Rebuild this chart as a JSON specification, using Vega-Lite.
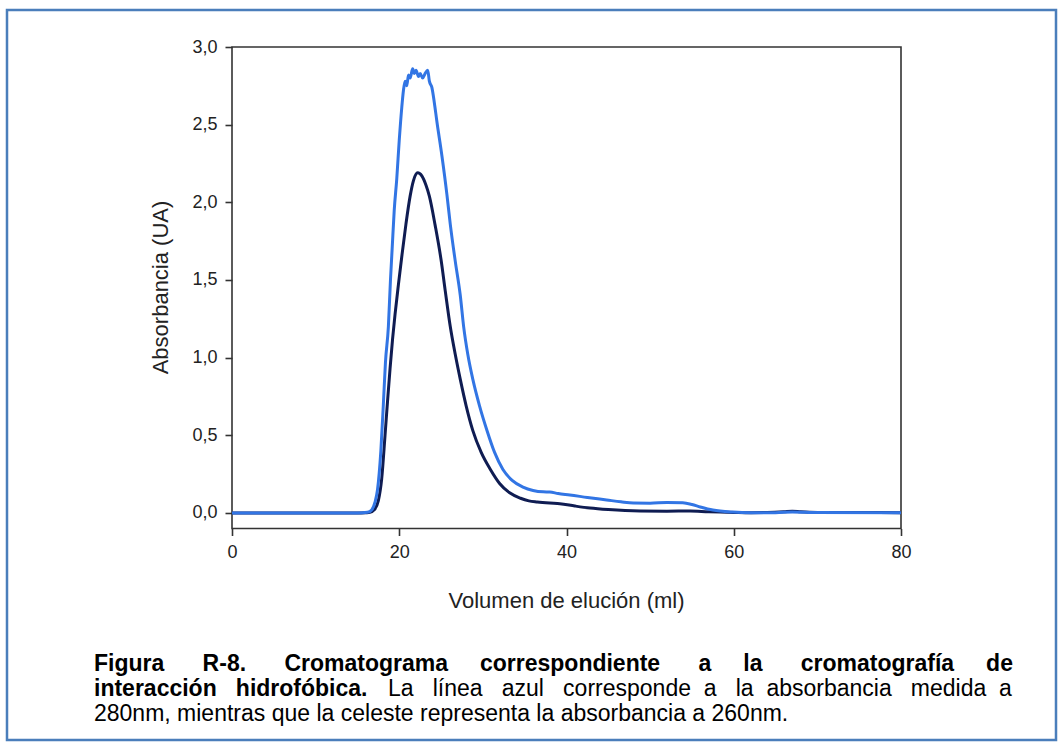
{
  "$schema": "https://vega.github.io/schema/vega-lite/v6.json",
  "width": 1049,
  "height": 730,
  "autosize": {"type": "none"},
  "padding": {"left": 7, "top": 10, "right": 6, "bottom": 5},
  "background": "white",
  "config": {
    "view": {"stroke": "#4a7ebb", "strokeWidth": 2.5},
    "font": "Liberation Sans"
  },
  "title": {
    "text": [
      "Figura\u00a0\u00a0\u00a0\u00a0\u00a0 R-8.\u00a0\u00a0\u00a0\u00a0\u00a0 Cromatograma\u00a0\u00a0\u00a0\u00a0 correspondiente\u00a0\u00a0\u00a0\u00a0\u00a0 a\u00a0\u00a0\u00a0\u00a0 la\u00a0\u00a0\u00a0\u00a0\u00a0 cromatografía\u00a0\u00a0\u00a0\u00a0 de",
      "interacción\u00a0\u00a0 hidrofóbica."
    ],
    "subtitle": [
      "\u200b\u00a0\u00a0\u00a0\u00a0\u00a0\u00a0\u00a0\u00a0\u00a0\u00a0\u00a0\u00a0\u00a0\u00a0\u00a0\u00a0\u00a0\u00a0\u00a0\u00a0\u00a0\u00a0\u00a0\u00a0\u00a0\u00a0\u00a0\u00a0\u00a0\u00a0\u00a0\u00a0\u00a0\u00a0\u00a0\u00a0\u00a0\u00a0\u00a0\u00a0\u00a0\u00a0\u00a0\u00a0\u00a0\u00a0La\u00a0\u00a0 línea\u00a0\u00a0 azul\u00a0\u00a0 corresponde\u00a0 a\u00a0\u00a0 la\u00a0 absorbancia\u00a0\u00a0 medida\u00a0 a",
      "280nm, mientras que la celeste representa la absorbancia a 260nm."
    ],
    "orient": "bottom",
    "anchor": "start",
    "frame": "group",
    "offset": -87,
    "dx": 87,
    "font": "Liberation Sans",
    "fontSize": 23,
    "fontWeight": "bold",
    "color": "#000000",
    "lineHeight": 25,
    "subtitleFont": "Liberation Sans",
    "subtitleFontSize": 23,
    "subtitleFontWeight": "normal",
    "subtitleColor": "#000000",
    "subtitleLineHeight": 25,
    "subtitlePadding": -23
  },
  "layer": [
    {
      "data": {"values": [{}]},
      "mark": {"type": "rect", "filled": false, "stroke": "#333333", "strokeWidth": 1.6},
      "encoding": {
        "x": {"datum": 0, "type": "quantitative", "scale": {"domain": [-26.906, 98.535], "nice": false, "zero": false}},
        "x2": {"datum": 80},
        "y": {"datum": -0.1, "type": "quantitative", "scale": {"domain": [-1.4614, 3.2382], "nice": false, "zero": false}},
        "y2": {"datum": 3.0}
      }
    },
    {
      "data": {
        "values": [
          {"s": "280 nm", "v": 0, "a": 0}, {"s": "280 nm", "v": 10, "a": 0}, {"s": "280 nm", "v": 15, "a": 0},
          {"s": "280 nm", "v": 16, "a": 0.002}, {"s": "280 nm", "v": 16.5, "a": 0.004}, {"s": "280 nm", "v": 17.0, "a": 0.02},
          {"s": "280 nm", "v": 17.5, "a": 0.08}, {"s": "280 nm", "v": 17.9, "a": 0.22}, {"s": "280 nm", "v": 18.3, "a": 0.5},
          {"s": "280 nm", "v": 18.6, "a": 0.72}, {"s": "280 nm", "v": 18.9, "a": 0.93}, {"s": "280 nm", "v": 19.2, "a": 1.12},
          {"s": "280 nm", "v": 19.5, "a": 1.28}, {"s": "280 nm", "v": 19.9, "a": 1.47}, {"s": "280 nm", "v": 20.3, "a": 1.65},
          {"s": "280 nm", "v": 20.8, "a": 1.86}, {"s": "280 nm", "v": 21.3, "a": 2.04}, {"s": "280 nm", "v": 21.7, "a": 2.14},
          {"s": "280 nm", "v": 22.2, "a": 2.19},
          {"s": "280 nm", "v": 22.7, "a": 2.17}, {"s": "280 nm", "v": 23.2, "a": 2.11}, {"s": "280 nm", "v": 23.6, "a": 2.04},
          {"s": "280 nm", "v": 24.3, "a": 1.85}, {"s": "280 nm", "v": 25.0, "a": 1.63}, {"s": "280 nm", "v": 25.5, "a": 1.43},
          {"s": "280 nm", "v": 26.1, "a": 1.2}, {"s": "280 nm", "v": 26.7, "a": 1.02}, {"s": "280 nm", "v": 27.3, "a": 0.86},
          {"s": "280 nm", "v": 28.0, "a": 0.69}, {"s": "280 nm", "v": 28.8, "a": 0.53}, {"s": "280 nm", "v": 29.8, "a": 0.39},
          {"s": "280 nm", "v": 30.9, "a": 0.28}, {"s": "280 nm", "v": 32.0, "a": 0.19}, {"s": "280 nm", "v": 33.2, "a": 0.13},
          {"s": "280 nm", "v": 34.5, "a": 0.095}, {"s": "280 nm", "v": 35.5, "a": 0.078}, {"s": "280 nm", "v": 36.5, "a": 0.071},
          {"s": "280 nm", "v": 38.0, "a": 0.064}, {"s": "280 nm", "v": 39.2, "a": 0.06}, {"s": "280 nm", "v": 41.0, "a": 0.045},
          {"s": "280 nm", "v": 42.8, "a": 0.032}, {"s": "280 nm", "v": 45.0, "a": 0.022}, {"s": "280 nm", "v": 48.8, "a": 0.013},
          {"s": "280 nm", "v": 52.0, "a": 0.012}, {"s": "280 nm", "v": 54.8, "a": 0.013}, {"s": "280 nm", "v": 57.0, "a": 0.008},
          {"s": "280 nm", "v": 58.4, "a": 0.006}, {"s": "280 nm", "v": 60.0, "a": 0.004}, {"s": "280 nm", "v": 62.0, "a": 0.002},
          {"s": "280 nm", "v": 64.0, "a": 0.003}, {"s": "280 nm", "v": 66.0, "a": 0.008}, {"s": "280 nm", "v": 67.0, "a": 0.012},
          {"s": "280 nm", "v": 68.0, "a": 0.008}, {"s": "280 nm", "v": 70.0, "a": 0.004}, {"s": "280 nm", "v": 75.0, "a": 0.003},
          {"s": "280 nm", "v": 80.0, "a": 0.002},
          {"s": "260 nm", "v": 0, "a": 0}, {"s": "260 nm", "v": 10, "a": 0}, {"s": "260 nm", "v": 15, "a": 0},
          {"s": "260 nm", "v": 16.2, "a": 0.005}, {"s": "260 nm", "v": 16.7, "a": 0.02}, {"s": "260 nm", "v": 17.1, "a": 0.07},
          {"s": "260 nm", "v": 17.4, "a": 0.15}, {"s": "260 nm", "v": 17.8, "a": 0.4}, {"s": "260 nm", "v": 18.1, "a": 0.7},
          {"s": "260 nm", "v": 18.35, "a": 0.97}, {"s": "260 nm", "v": 18.7, "a": 1.2}, {"s": "260 nm", "v": 18.95, "a": 1.5},
          {"s": "260 nm", "v": 19.15, "a": 1.7}, {"s": "260 nm", "v": 19.4, "a": 1.95}, {"s": "260 nm", "v": 19.7, "a": 2.15},
          {"s": "260 nm", "v": 20.0, "a": 2.4}, {"s": "260 nm", "v": 20.3, "a": 2.61}, {"s": "260 nm", "v": 20.5, "a": 2.72},
          {"s": "260 nm", "v": 20.7, "a": 2.78}, {"s": "260 nm", "v": 20.9, "a": 2.75}, {"s": "260 nm", "v": 21.1, "a": 2.82},
          {"s": "260 nm", "v": 21.3, "a": 2.8}, {"s": "260 nm", "v": 21.6, "a": 2.86}, {"s": "260 nm", "v": 21.8, "a": 2.83},
          {"s": "260 nm", "v": 22.0, "a": 2.85}, {"s": "260 nm", "v": 22.3, "a": 2.81}, {"s": "260 nm", "v": 22.5, "a": 2.83},
          {"s": "260 nm", "v": 22.8, "a": 2.8}, {"s": "260 nm", "v": 23.1, "a": 2.83}, {"s": "260 nm", "v": 23.4, "a": 2.85},
          {"s": "260 nm", "v": 23.6, "a": 2.78}, {"s": "260 nm", "v": 23.9, "a": 2.74}, {"s": "260 nm", "v": 24.2, "a": 2.64},
          {"s": "260 nm", "v": 24.5, "a": 2.52}, {"s": "260 nm", "v": 25.1, "a": 2.3}, {"s": "260 nm", "v": 25.7, "a": 2.05},
          {"s": "260 nm", "v": 26.1, "a": 1.86}, {"s": "260 nm", "v": 26.7, "a": 1.62}, {"s": "260 nm", "v": 27.3, "a": 1.4},
          {"s": "260 nm", "v": 27.7, "a": 1.2}, {"s": "260 nm", "v": 28.2, "a": 1.02}, {"s": "260 nm", "v": 28.8, "a": 0.86},
          {"s": "260 nm", "v": 29.6, "a": 0.69}, {"s": "260 nm", "v": 30.5, "a": 0.53}, {"s": "260 nm", "v": 31.4, "a": 0.39},
          {"s": "260 nm", "v": 32.4, "a": 0.28}, {"s": "260 nm", "v": 33.5, "a": 0.21}, {"s": "260 nm", "v": 34.8, "a": 0.167},
          {"s": "260 nm", "v": 36.0, "a": 0.145}, {"s": "260 nm", "v": 37.2, "a": 0.136}, {"s": "260 nm", "v": 38.0, "a": 0.135},
          {"s": "260 nm", "v": 39.0, "a": 0.125}, {"s": "260 nm", "v": 40.4, "a": 0.116}, {"s": "260 nm", "v": 42.5, "a": 0.1},
          {"s": "260 nm", "v": 44.8, "a": 0.084}, {"s": "260 nm", "v": 46.5, "a": 0.072}, {"s": "260 nm", "v": 48.0, "a": 0.064},
          {"s": "260 nm", "v": 50.0, "a": 0.063}, {"s": "260 nm", "v": 52.0, "a": 0.068}, {"s": "260 nm", "v": 53.9, "a": 0.066},
          {"s": "260 nm", "v": 55.0, "a": 0.055}, {"s": "260 nm", "v": 56.0, "a": 0.039}, {"s": "260 nm", "v": 57.5, "a": 0.019},
          {"s": "260 nm", "v": 59.9, "a": 0.006}, {"s": "260 nm", "v": 62.0, "a": 0.002}, {"s": "260 nm", "v": 65.0, "a": 0.002},
          {"s": "260 nm", "v": 67.0, "a": 0.007}, {"s": "260 nm", "v": 70.0, "a": 0.003}, {"s": "260 nm", "v": 80.0, "a": 0.002}
        ]
      },
      "mark": {"type": "line", "strokeWidth": 3, "interpolate": "monotone"},
      "encoding": {
        "x": {
          "field": "v", "type": "quantitative",
          "scale": {"domain": [-26.906, 98.535], "nice": false, "zero": false},
          "axis": {
            "orient": "bottom", "offset": -211.5, "domain": false, "grid": false,
            "values": [0, 20, 40, 60, 80],
            "tickSize": 7, "tickWidth": 1.6, "tickColor": "#333333",
            "labelFontSize": 18, "labelColor": "#222222", "labelPadding": 8, "labelFont": "Liberation Sans",
            "title": "Volumen de elución (ml)", "titleFontSize": 22, "titleFontWeight": "normal", "titleColor": "#222222",
            "titleFont": "Liberation Sans", "titleX": 559, "titleY": 71.5, "titleBaseline": "middle", "titleAlign": "center"
          }
        },
        "y": {
          "field": "a", "type": "quantitative",
          "scale": {"domain": [-1.4614, 3.2382], "nice": false, "zero": false},
          "axis": {
            "orient": "left", "offset": -225, "domain": false, "grid": false,
            "values": [0, 0.5, 1, 1.5, 2, 2.5, 3],
            "labelExpr": "replace(format(datum.value, '.1f'), '.', ',')",
            "tickSize": 7, "tickWidth": 1.6, "tickColor": "#333333",
            "labelFontSize": 18, "labelColor": "#222222", "labelPadding": 8, "labelFont": "Liberation Sans",
            "title": "Absorbancia (UA)", "titleFontSize": 22, "titleFontWeight": "normal", "titleColor": "#222222",
            "titleFont": "Liberation Sans", "titleX": -72, "titleY": 277, "titleBaseline": "middle", "titleAlign": "center", "titleAngle": 270
          }
        },
        "color": {
          "field": "s", "type": "nominal",
          "scale": {"domain": ["260 nm", "280 nm"], "range": ["#3275e4", "#0f1c52"]},
          "legend": null
        },
        "order": {"field": "v", "type": "quantitative"}
      }
    }
  ]
}
